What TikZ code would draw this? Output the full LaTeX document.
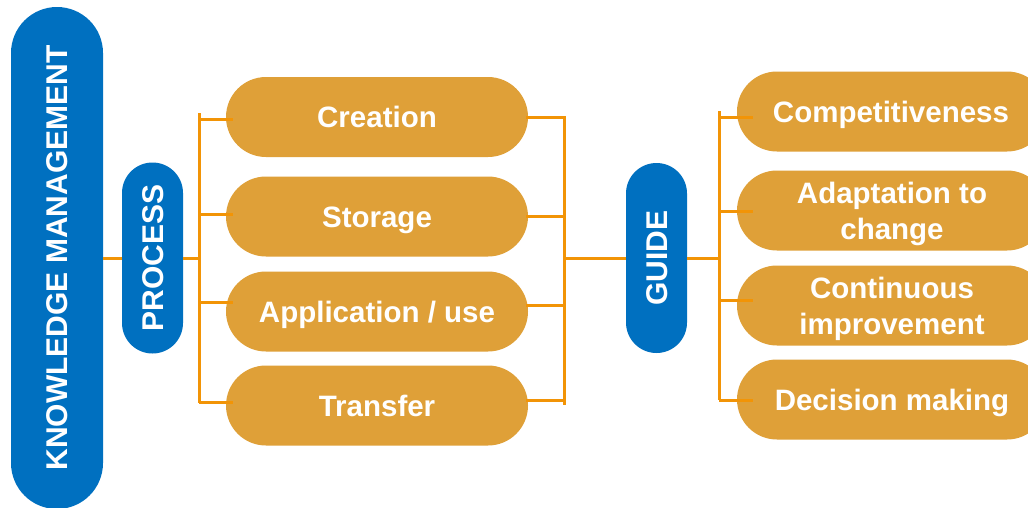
\documentclass[tikz,border=0pt]{standalone}
\usepackage{fontspec}
\setmainfont{Liberation Sans}
\usetikzlibrary{calc}
\definecolor{kmblue}{HTML}{0070C0}
\definecolor{pillor}{HTML}{DFA038}
\definecolor{lineor}{HTML}{F29406}
\begin{document}
\begin{tikzpicture}[x=1pt,y=-1pt,
  txt/.style={text=white, font=\fontsize{29.5}{36}\selectfont\bfseries, inner sep=0pt, align=center},
  oneline/.style={text height=21pt, text depth=0pt},
  twoline/.style={text depth=0pt},
  bluepill/.style={txt, font=\fontsize{30}{36}\selectfont\bfseries, fill=kmblue, rotate=90, text height=21.5pt, text depth=0pt},
  orpill/.style={txt, fill=pillor, minimum height=80pt, rounded corners=40pt},
  conn/.style={draw=lineor, line width=3pt}]
\clip (0,0) rectangle (1028,507);
\fill[white] (0,0) rectangle (1028,507);
% blue pills
\node[bluepill, minimum width=502pt, minimum height=92pt, rounded corners=46pt] (km) at (57,258) {KNOWLEDGE MANAGEMENT};
\node[bluepill, minimum width=191pt, minimum height=61pt, rounded corners=30.5pt] (process) at (152.5,258) {PROCESS};
\node[bluepill, minimum width=190pt, minimum height=61pt, rounded corners=30.5pt] (guide) at (656.5,258) {GUIDE};
% left column pills
\node[orpill, oneline, minimum width=302pt] (creation) at (377,117) {Creation};
\node[orpill, oneline, minimum width=302pt] (storage) at (377,216.5) {Storage};
\node[orpill, oneline, minimum width=302pt] (application) at (377,311.5) {Application / use};
\node[orpill, oneline, minimum width=302pt] (transfer) at (377,405.5) {Transfer};
% right column pills
\node[orpill, oneline, minimum width=310pt] (compet) at (892,111.5) {\hspace*{-2pt}Competitiveness};
\node[orpill, twoline, minimum width=310pt] (adapt) at (892,210.5) {Adaptation to\\change};
\node[orpill, twoline, minimum width=310pt] (contin) at (892,305.5) {Continuous\\improvement};
\node[orpill, oneline, minimum width=310pt] (decision) at (892,399.5) {Decision making};
% bracket coordinates
\coordinate (lbt) at (199,113);
\coordinate (lbb) at (199,403);
\coordinate (lbj) at (199,258);
\coordinate (l1) at (199,119);
\coordinate (l2) at (199,214);
\coordinate (l3) at (199,302);
\coordinate (l4) at (199,402);
\coordinate (mbt) at (564,116);
\coordinate (mbb) at (564,405);
\coordinate (mbj) at (564,258);
\coordinate (m1) at (564,117);
\coordinate (m2) at (564,216);
\coordinate (m3) at (564,305);
\coordinate (m4) at (564,400);
\coordinate (rbt) at (719,111);
\coordinate (rbb) at (719,400);
\coordinate (rbj) at (719,258);
\coordinate (r1) at (719,117);
\coordinate (r2) at (719,211);
\coordinate (r3) at (719,300);
\coordinate (r4) at (719,400);
% connectors
\draw[conn] (km.south) -- (km.south -| process.north);
\draw[conn] (process.south) -- (lbj);
\draw[conn] (lbt) -- (lbb);
\draw[conn] (l1) -- ($(l1 -| creation.west)+(7,0)$);
\draw[conn] (l2) -- ($(l2 -| storage.west)+(7,0)$);
\draw[conn] (l3) -- ($(l3 -| application.west)+(7,0)$);
\draw[conn] (l4) -- ($(l4 -| transfer.west)+(7,0)$);
\draw[conn] (mbt) -- (mbb);
\draw[conn] (m1) -- ($(m1 -| creation.east)+(-2,0)$);
\draw[conn] (m2) -- ($(m2 -| storage.east)+(-2,0)$);
\draw[conn] (m3) -- ($(m3 -| application.east)+(-2,0)$);
\draw[conn] (m4) -- ($(m4 -| transfer.east)+(-2,0)$);
\draw[conn] (mbj) -- (guide.north);
\draw[conn] (guide.south) -- (rbj);
\draw[conn] (rbt) -- (rbb);
\draw[conn] (r1) -- ($(r1 -| compet.west)+(16,0)$);
\draw[conn] (r2) -- ($(r2 -| adapt.west)+(16,0)$);
\draw[conn] (r3) -- ($(r3 -| contin.west)+(16,0)$);
\draw[conn] (r4) -- ($(r4 -| decision.west)+(16,0)$);
\end{tikzpicture}
\end{document}
